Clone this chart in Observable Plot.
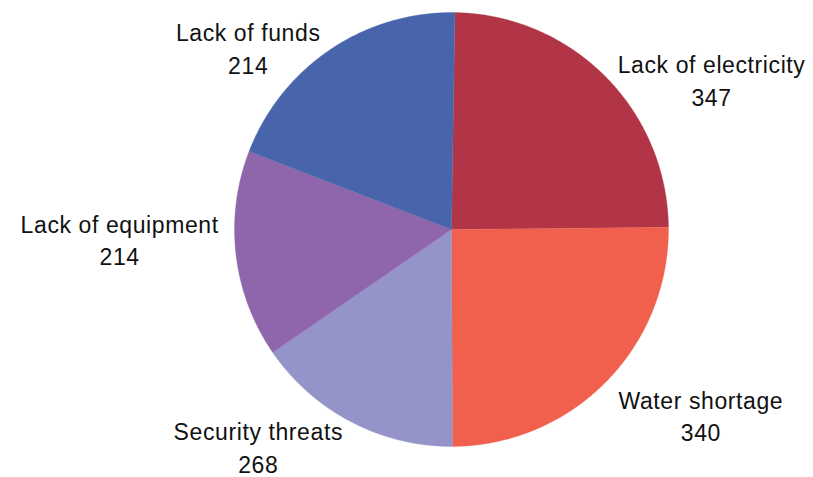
<!DOCTYPE html>
<html>
<head>
<meta charset="utf-8">
<script src="https://cdn.jsdelivr.net/npm/d3@7"></script>
<script src="https://cdn.jsdelivr.net/npm/@observablehq/plot@0.6"></script>
<style>
  html, body { margin: 0; padding: 0; background: #ffffff; }
  #chart svg text { letter-spacing: 0.6px; }
</style>
</head>
<body>
<div id="chart"></div>
<script>
// Categories in clockwise order starting from 12 o'clock
const categories = ["Lack of electricity", "Water shortage", "Security threats", "Lack of equipment", "Lack of funds"];
// Numbers printed on the labels of the reference
const printedValues = [347, 340, 268, 214, 214];
// Slice sizes as drawn in the reference (they do not follow the printed numbers exactly)
const sliceValues = [340, 347, 214, 214, 268];
const colors = ["#b23547", "#f0604c", "#9494c8", "#8f66ab", "#4865ab"];

const W = 813, H = 477;
const R = 217, CX = 451, CY = 229;
const FONT = "Liberation Sans, Arial, Helvetica, sans-serif";
const FS = 23;
const LS = 0.6;
// vertical nudges (px) of label blocks, layout only
const labelDy = [15, 21, 9, -18, 12];

const start = 0.9 * Math.PI / 180;
const pie = d3.pie().sort(null).startAngle(start).endAngle(start + 2 * Math.PI);
const arcs = pie(sliceValues);

// polygon points for each slice in unit coordinates
const slicePts = [];
arcs.forEach((a, i) => {
  const n = Math.max(2, Math.ceil((a.endAngle - a.startAngle) / 0.005));
  slicePts.push({cat: categories[i], x: 0, y: 0, fill: colors[i]});
  for (let k = 0; k <= n; k++) {
    const t = a.startAngle + (a.endAngle - a.startAngle) * k / n;
    slicePts.push({cat: categories[i], x: Math.sin(t), y: Math.cos(t), fill: colors[i]});
  }
  slicePts.push({cat: categories[i], x: 0, y: 0, fill: colors[i]});
});

// label placement: just outside the slice at its mid angle, block pushed sideways
const ctx = document.createElement("canvas").getContext("2d");
ctx.font = `${FS}px ${FONT}`;
const labels = arcs.map((a, i) => {
  const mid = (a.startAngle + a.endAngle) / 2;
  const txt = categories[i];
  const w = ctx.measureText(txt).width + LS * txt.length;
  const px = 1.08 * Math.sin(mid), py = 1.08 * Math.cos(mid);
  const side = Math.sin(mid) >= 0 ? 1 : -1;
  return {
    text: `${txt}\n${printedValues[i]}`,
    x: px + side * (w / 2) / R,
    y: py - labelDy[i] / R
  };
});

const chart = Plot.plot({
  width: W,
  height: H,
  margin: 0,
  x: {domain: [-CX / R, (W - CX) / R], range: [0, W], axis: null},
  y: {domain: [-(H - CY) / R, CY / R], range: [H, 0], axis: null},
  color: {type: "identity"},
  style: {fontFamily: FONT, background: "#ffffff"},
  marks: [
    Plot.line(slicePts, {x: "x", y: "y", z: "cat", fill: "fill", stroke: "fill", strokeWidth: 0.3, curve: "linear"}),
    Plot.text(labels, {x: "x", y: "y", text: "text", fontSize: FS, fill: "#111111", lineHeight: 1.4, lineAnchor: "middle", textAnchor: "middle", fontFamily: FONT})
  ]
});
document.getElementById("chart").appendChild(chart);
</script>
</body>
</html>
